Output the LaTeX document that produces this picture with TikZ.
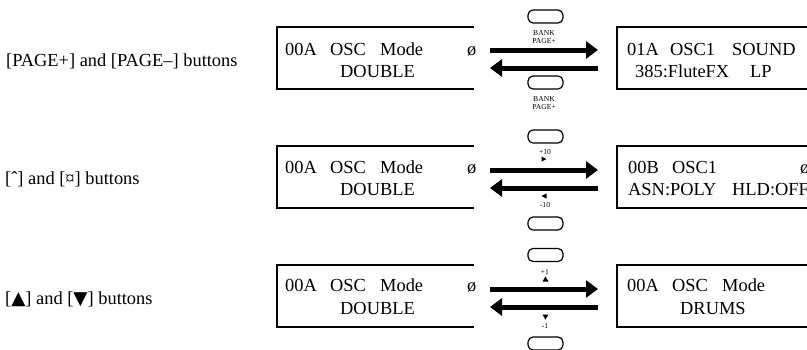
\documentclass[tikz,border=0pt]{standalone}
\usepackage{fontspec}
\setmainfont{Liberation Serif}
\newfontfamily\symfont{DejaVu Sans}
\usetikzlibrary{arrows.meta}
\tikzset{
  lcd/.style={font=\fontsize{18.4}{20}\selectfont, inner sep=0pt, anchor=base west},
  lab/.style={font=\fontsize{18.4}{20}\selectfont, inner sep=0pt, anchor=base west},
  tiny/.style={font=\fontsize{7.6}{8}\selectfont, inner sep=0pt},
  btn/.style={draw, line width=1.2pt, rounded corners=5pt, minimum width=35pt, minimum height=13pt, inner sep=0pt},
  boxline/.style={line width=1.1pt},
  bigarrow/.style={line width=5pt, -{Triangle[length=12pt,width=17pt]}},
  tri/.style={fill=black},
}
\begin{document}
\begin{tikzpicture}[x=1pt,y=-1pt]
\clip (0,0) rectangle (807,349);
\fill[white] (0,0) rectangle (807,349);

% ---- left labels
\node[lab] (l1) at (6,66) {[PAGE+] and [PAGE–] buttons};
\node[lab] (l2) at (5,184) {[ˆ] and [¤] buttons};
\node[lab] (l3) at (5,304) {[{\symfont ▲}] and [{\symfont ▼}] buttons};

% ---- boxes (left: open on the right; right: run off the page)
\foreach \t in {27,146,265}{
  \draw[boxline] (474,\t) -- (277,\t) -- (277,\t+62) -- (474,\t+62);
  \draw[boxline] (812,\t) -- (617,\t) -- (617,\t+62) -- (812,\t+62);
}

% ---- row 1 texts
\node[lcd] (a1) at (285,55) {00A};
\node[lcd] (a2) at (330,55) {OSC};
\node[lcd] (a3) at (380,55) {Mode};
\node[lcd] (a4) at (467,55) {ø};
\node[lcd] (a5) at (340,77) {DOUBLE};
\node[lcd] (b1) at (627,55) {01A};
\node[lcd] (b2) at (670,55) {OSC1};
\node[lcd] (b3) at (732,55) {SOUND};
\node[lcd] (b4) at (635,77) {385:FluteFX};
\node[lcd] (b5) at (750,77) {LP};

% ---- row 2 texts
\node[lcd] (c1) at (285,173) {00A};
\node[lcd] (c2) at (330,173) {OSC};
\node[lcd] (c3) at (380,173) {Mode};
\node[lcd] (c4) at (467,173) {ø};
\node[lcd] (c5) at (340,195) {DOUBLE};
\node[lcd] (d1) at (628,173) {00B};
\node[lcd] (d2) at (672,173) {OSC1};
\node[lcd] (d3) at (800,173) {ø};
\node[lcd] (d4) at (628,195) {ASN:POLY};
\node[lcd] (d5) at (732,195) {HLD:OFF};

% ---- row 3 texts
\node[lcd] (e1) at (285,291) {00A};
\node[lcd] (e2) at (330,291) {OSC};
\node[lcd] (e3) at (380,291) {Mode};
\node[lcd] (e4) at (467,291) {ø};
\node[lcd] (e5) at (340,314) {DOUBLE};
\node[lcd] (f1) at (627,291) {00A};
\node[lcd] (f2) at (672,291) {OSC};
\node[lcd] (f3) at (722,291) {Mode};
\node[lcd] (f4) at (809,291) {ø};
\node[lcd] (f5) at (680,314) {DRUMS};

% ---- arrows
\coordinate (p1l) at (490,50);  \coordinate (p1r) at (598,50);
\coordinate (q1l) at (490,68);  \coordinate (q1r) at (598,68);
\coordinate (p2l) at (490,170); \coordinate (p2r) at (598,170);
\coordinate (q2l) at (490,188); \coordinate (q2r) at (598,188);
\coordinate (p3l) at (490,289); \coordinate (p3r) at (598,289);
\coordinate (q3l) at (490,307); \coordinate (q3r) at (598,307);
\draw[bigarrow] (p1l) -- (p1r);
\draw[bigarrow] (q1r) -- (q1l);
\draw[bigarrow] (p2l) -- (p2r);
\draw[bigarrow] (q2r) -- (q2l);
\draw[bigarrow] (p3l) -- (p3r);
\draw[bigarrow] (q3r) -- (q3l);

% ---- row 1 buttons
\node[btn] (k1) at (545.5,16.5) {};
\node[tiny] (k1a) at (544,33) {BANK};
\node[tiny] (k1b) at (544,41) {PAGE+};
\node[btn] (k2) at (545.5,82.5) {};
\node[tiny] (k2a) at (544,99) {BANK};
\node[tiny] (k2b) at (544,107) {PAGE+};

% ---- row 2 buttons
\node[btn] (k3) at (545.5,136.5) {};
\node[tiny] (k3a) at (545,152) {+10};
\fill[tri] (541.5,156.5) -- (541.5,161.5) -- (546.5,159) -- cycle;
\fill[tri] (546.5,193.5) -- (546.5,198.5) -- (541.5,196) -- cycle;
\node[tiny] (k4a) at (545,205) {-10};
\node[btn] (k4) at (545.5,223.5) {};

% ---- row 3 buttons
\node[btn] (k5) at (545.5,255) {};
\node[tiny] (k5a) at (545,271.5) {+1};
\fill[tri] (542.5,281.5) -- (548.5,281.5) -- (545.5,276.5) -- cycle;
\fill[tri] (542.5,314.5) -- (548.5,314.5) -- (545.5,319.5) -- cycle;
\node[tiny] (k6a) at (545,326) {-1};
\node[btn] (k6) at (545.5,343.5) {};
\end{tikzpicture}
\end{document}
